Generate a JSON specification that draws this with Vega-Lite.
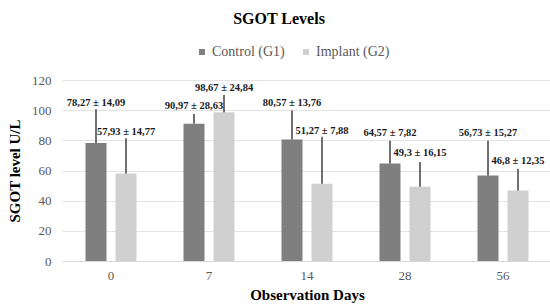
{
  "$schema": "https://vega.github.io/schema/vega-lite/v6.json",
  "width": 490,
  "height": 181,
  "autosize": "none",
  "padding": {"left": 62, "top": 80, "right": 0, "bottom": 45},
  "config": {
    "font": "Liberation Serif",
    "view": {"stroke": null},
    "style": {
      "guide-label": {"font": "Liberation Serif", "fontSize": 13, "fill": "#595959"},
      "guide-title": {"font": "Liberation Serif", "fontSize": 15, "fontWeight": "bold", "fill": "#000000"}
    },
    "axis": {"labelFont": "Liberation Serif", "titleFont": "Liberation Serif", "labelFontSize": 13, "labelColor": "#595959", "labelOverlap": false, "ticks": false, "titleFontSize": 15, "titleFontWeight": "bold", "titleColor": "#000000"},
    "axisY": {"tickCount": 6, "domain": false, "gridColor": "#e3e3e3", "labelPadding": 11, "titlePadding": 9},
    "axisX": {"labelAngle": 0, "labelPadding": 8, "domainColor": "#d9d9d9", "titlePadding": 5},
    "legend": {"labelFont": "Liberation Serif", "labelFontSize": 14, "labelColor": "#595959"},
    "text": {"font": "Liberation Serif"}
  },
  "title": {"text": "SGOT Levels", "fontSize": 16, "fontWeight": "bold", "color": "#000000", "anchor": "middle", "dx": -28, "offset": 18, "font": "Liberation Serif"},
  "data": {"values": [
    {"day": "0", "group": "Control (G1)", "mean": 78.27, "lineTop": 100.6, "labelY": 105, "label": "78,27 ± 14,09"},
    {"day": "0", "group": "Implant (G2)", "mean": 57.93, "lineTop": 81.4, "labelY": 85.3, "label": "57,93 ± 14,77"},
    {"day": "7", "group": "Control (G1)", "mean": 90.97, "lineTop": 97.5, "labelY": 102.8, "label": "90,97 ± 28,63"},
    {"day": "7", "group": "Implant (G2)", "mean": 98.67, "lineTop": 110, "labelY": 114.5, "label": "98,67 ± 24,84"},
    {"day": "14", "group": "Control (G1)", "mean": 80.57, "lineTop": 99.7, "labelY": 104.5, "label": "80,57 ± 13,76"},
    {"day": "14", "group": "Implant (G2)", "mean": 51.27, "lineTop": 82.4, "labelY": 86.2, "label": "51,27 ± 7,88"},
    {"day": "28", "group": "Control (G1)", "mean": 64.57, "lineTop": 79.8, "labelY": 85, "label": "64,57 ± 7,82"},
    {"day": "28", "group": "Implant (G2)", "mean": 49.3, "lineTop": 65.6, "labelY": 71.4, "label": "49,3 ± 16,15"},
    {"day": "56", "group": "Control (G1)", "mean": 56.73, "lineTop": 79.8, "labelY": 85, "label": "56,73 ± 15,27"},
    {"day": "56", "group": "Implant (G2)", "mean": 46.8, "lineTop": 61.2, "labelY": 66.5, "label": "46,8 ± 12,35"}
  ]},
  "encoding": {
    "x": {
      "field": "day", "type": "ordinal", "sort": ["0", "7", "14", "28", "56"],
      "scale": {"paddingInner": 0, "paddingOuter": 0},
      "axis": {"title": "Observation Days"}
    },
    "xOffset": {"field": "group", "type": "nominal", "scale": {"paddingInner": 0.3, "paddingOuter": 0.783}}
  },
  "layer": [
    {
      "mark": {"type": "bar"},
      "encoding": {
        "y": {"field": "mean", "type": "quantitative", "scale": {"domain": [0, 120]}, "title": "SGOT level U/L"},
        "color": {"field": "group", "type": "nominal",
          "scale": {"domain": ["Control (G1)", "Implant (G2)"], "range": ["#7f7f7f", "#d0d0d0"]},
          "legend": {"title": null, "orient": "none", "direction": "horizontal", "legendX": 133, "legendY": -35, "symbolType": "square", "symbolSize": 36, "symbolStrokeWidth": 0, "labelOffset": 3, "columnPadding": 14}}
      }
    },
    {
      "mark": {"type": "rule", "color": "#404040", "strokeWidth": 1.5},
      "encoding": {
        "y": {"field": "mean", "type": "quantitative"},
        "y2": {"field": "lineTop"}
      }
    },
    {
      "mark": {"type": "text", "fontSize": 10.5, "fontWeight": "bold", "color": "#1a1a1a", "baseline": "middle", "font": "Liberation Serif"},
      "encoding": {
        "y": {"field": "labelY", "type": "quantitative"},
        "text": {"field": "label"}
      }
    }
  ]
}
